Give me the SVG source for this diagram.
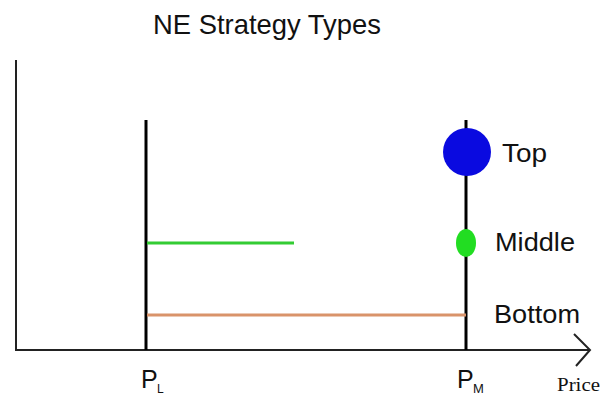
<svg xmlns="http://www.w3.org/2000/svg" width="601" height="396" viewBox="0 0 601 396">
<style>
.t{font-family:"Liberation Sans",Arial,sans-serif;fill:#111}
.ax{stroke:#222;stroke-width:2;fill:none}
.v{stroke:#000;stroke-width:3;fill:none}
</style>
<rect width="601" height="396" fill="#fff"/>
<text class="t" x="153" y="34" font-size="28" textLength="228" lengthAdjust="spacingAndGlyphs">NE Strategy Types</text>
<g id="connectors">
<path class="ax" d="M16,60 V350 H590"/>
<path class="ax" d="M574,334 L590,350 L576,366" stroke-width="1.5"/>
<line class="v" x1="146" y1="120" x2="146" y2="350"/>
<line class="v" x1="466" y1="120" x2="466" y2="350"/>
<line x1="147" y1="243" x2="294" y2="243" stroke="#33cc33" stroke-width="3"/>
<line x1="147" y1="315" x2="466" y2="315" stroke="#d9936a" stroke-width="3"/>
</g>
<g id="top"><circle cx="467" cy="152" r="24" fill="#0a0ae0"/><text class="t" x="502" y="162" font-size="26" textLength="45" lengthAdjust="spacingAndGlyphs">Top</text></g>
<g id="middle"><ellipse cx="466" cy="243" rx="10" ry="14" fill="#22dd22"/><text class="t" x="495" y="251" font-size="25" textLength="80" lengthAdjust="spacingAndGlyphs">Middle</text></g>
<g id="bottom"><text class="t" x="494" y="323" font-size="25" textLength="86" lengthAdjust="spacingAndGlyphs">Bottom</text></g>
<g id="pl"><text class="t" x="141" y="388" font-size="25">P</text><text class="t" x="157" y="393" font-size="12">L</text></g>
<g id="pm"><text class="t" x="457" y="388" font-size="25">P</text><text class="t" x="473" y="393" font-size="13">M</text></g>
<g id="price"><text x="557" y="391" font-size="18" textLength="43" lengthAdjust="spacingAndGlyphs" font-family="'Liberation Serif',serif" fill="#111">Price</text></g>
</svg>
